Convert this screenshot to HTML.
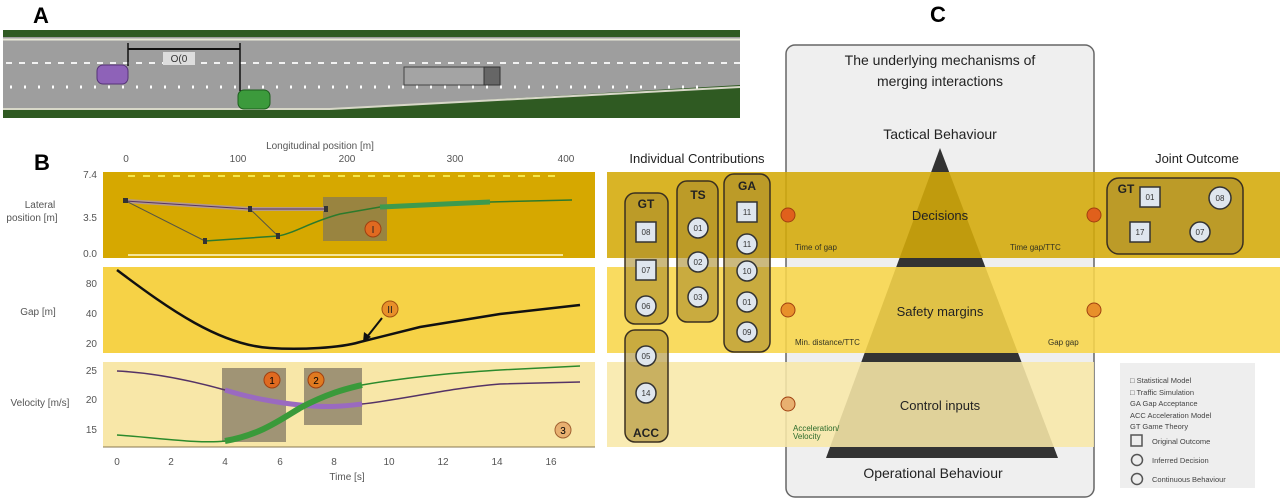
<!DOCTYPE html>
<html><head><meta charset="utf-8"><style>
html,body{margin:0;padding:0;background:#fff;}
svg{display:block;font-family:"Liberation Sans",sans-serif;}
</style></head><body>
<svg width="1280" height="502" viewBox="0 0 1280 502" xmlns="http://www.w3.org/2000/svg">
<!-- Panel A -->
<text x="33" y="23" font-size="22" font-weight="bold">A</text>
<rect x="3" y="30" width="737" height="88" fill="#2f5a22"/>
<rect x="3" y="37" width="737" height="72" fill="#9e9e9e"/>
<path d="M330 109 L740 85 L740 118 L330 118 Z" fill="#2f5a22"/>
<line x1="3" y1="39.5" x2="740" y2="39.5" stroke="#e8e8d8" stroke-width="2"/>
<line x1="3" y1="109" x2="330" y2="109" stroke="#d8d8c8" stroke-width="2"/>
<line x1="330" y1="109" x2="740" y2="87" stroke="#d8d8c8" stroke-width="2"/>
<line x1="6" y1="63" x2="740" y2="63" stroke="#f2f2f2" stroke-width="2" stroke-dasharray="6,7"/>
<line x1="10" y1="87" x2="700" y2="87" stroke="#fff" stroke-width="3" stroke-dasharray="2,12"/>
<rect x="97" y="65" width="31" height="19" rx="6" fill="#8e62b8" stroke="#553377"/>
<rect x="238" y="90" width="32" height="19" rx="6" fill="#3c9a3c" stroke="#1e5e1e"/>
<rect x="404" y="67" width="80" height="18" fill="#a4a4a4" stroke="#444"/>
<rect x="484" y="67" width="16" height="18" fill="#666" stroke="#333"/>
<line x1="128" y1="43" x2="128" y2="66" stroke="#111" stroke-width="1.5"/>
<line x1="240" y1="43" x2="240" y2="91" stroke="#111" stroke-width="1.5"/>
<line x1="128" y1="49" x2="240" y2="49" stroke="#111" stroke-width="2"/>
<rect x="163" y="52" width="32" height="13" fill="#ddd"/>
<text x="179" y="62" font-size="10" text-anchor="middle" fill="#333">O(0</text>

<!-- Panel B -->
<text x="34" y="170" font-size="22" font-weight="bold">B</text>
<text x="320" y="149" font-size="10" text-anchor="middle" fill="#555">Longitudinal position [m]</text>
<g font-size="10" fill="#555" text-anchor="middle">
<text x="126" y="162">0</text><text x="238" y="162">100</text><text x="347" y="162">200</text><text x="455" y="162">300</text><text x="566" y="162">400</text>
</g>
<rect x="103" y="172" width="492" height="86" fill="#d6a800"/>
<line x1="128" y1="176" x2="562" y2="176" stroke="#f6e64a" stroke-width="2" stroke-dasharray="7,8"/>
<line x1="128" y1="255" x2="563" y2="255" stroke="#f5e59a" stroke-width="2"/>
<rect x="103" y="267" width="492" height="86" fill="#f6d246"/>
<rect x="103" y="362" width="492" height="85" fill="#f8e7a8"/>
<line x1="103" y1="447" x2="595" y2="447" stroke="#8a7a50" stroke-width="1"/>
<g font-size="10" fill="#555" text-anchor="end">
<text x="97" y="178">7.4</text><text x="97" y="221">3.5</text><text x="97" y="257">0.0</text>
<text x="97" y="287">80</text><text x="97" y="317">40</text><text x="97" y="347">20</text>
<text x="97" y="374">25</text><text x="97" y="403">20</text><text x="97" y="433">15</text>
</g>
<text x="40" y="208" font-size="10" fill="#555" text-anchor="middle">Lateral</text>
<text x="32" y="221" font-size="10" fill="#555" text-anchor="middle">position [m]</text>
<text x="38" y="315" font-size="10" fill="#555" text-anchor="middle">Gap [m]</text>
<text x="40" y="406" font-size="10" fill="#555" text-anchor="middle">Velocity [m/s]</text>
<g font-size="10" fill="#555" text-anchor="middle">
<text x="117" y="465">0</text><text x="171" y="465">2</text><text x="225" y="465">4</text><text x="280" y="465">6</text><text x="334" y="465">8</text><text x="389" y="465">10</text><text x="443" y="465">12</text><text x="497" y="465">14</text><text x="551" y="465">16</text>
<text x="347" y="480">Time [s]</text>
</g>
<!-- plot1 -->
<rect x="323" y="197" width="64" height="44" fill="#8a7a50" opacity="0.8"/>
<path d="M126 201 L250 209 L325 209" stroke="#b59a8a" stroke-width="4" fill="none"/>
<path d="M126 201 L250 209 L325 209" stroke="#553366" stroke-width="1" fill="none"/>
<path d="M205 241 L278 236 C295 233 310 222 340 214 L380 207 L445 204 L490 202 L572 200" stroke="#2c7a2c" stroke-width="1.5" fill="none"/>
<path d="M380 207 L445 204 L490 202" stroke="#3e9a4e" stroke-width="5" fill="none"/>
<line x1="126" y1="201" x2="205" y2="241" stroke="#554" stroke-width="1"/>
<line x1="250" y1="209" x2="278" y2="236" stroke="#554" stroke-width="1"/>
<g fill="#333"><rect x="123" y="198" width="5" height="5"/><rect x="248" y="206" width="4" height="6"/><rect x="203" y="238" width="4" height="6"/><rect x="276" y="233" width="4" height="6"/><rect x="324" y="206" width="4" height="6"/></g>
<circle cx="373" cy="229" r="8" fill="#e06a20" stroke="#a04010"/>
<text x="373" y="233" font-size="10" text-anchor="middle" fill="#222">I</text>
<!-- plot2 -->
<path d="M117 270 C170 310 220 345 270 348 C300 350 340 348 360 342 L420 327 L500 314 L580 305" stroke="#111" stroke-width="2.5" fill="none"/>
<circle cx="390" cy="309" r="8" fill="#e8902a" stroke="#a05010"/>
<text x="390" y="313" font-size="10" text-anchor="middle" fill="#222">II</text>
<line x1="382" y1="318" x2="367" y2="337" stroke="#111" stroke-width="2"/>
<path d="M363 342 L364 332 L371 337 Z" fill="#111"/>
<!-- plot3 -->
<rect x="222" y="368" width="64" height="74" fill="#8a8068" opacity="0.8"/>
<rect x="304" y="368" width="58" height="57" fill="#8a8068" opacity="0.8"/>
<path d="M117 371 C160 373 200 383 225 390 C250 398 280 403 300 405 C330 408 345 406 362 404 C400 400 450 388 500 384 L580 382" stroke="#553366" stroke-width="1.5" fill="none"/>
<path d="M225 390 C250 398 280 403 300 405 C330 408 345 406 362 404" stroke="#9a6ac0" stroke-width="5" fill="none"/>
<path d="M117 435 C160 438 200 444 225 441 C260 435 280 420 300 408 C330 392 350 388 362 385 C420 375 470 372 500 370 L580 366" stroke="#2c8a2c" stroke-width="1.5" fill="none"/>
<path d="M225 441 C260 435 280 420 300 408 C330 392 350 388 362 385" stroke="#3a9a3a" stroke-width="6" fill="none"/>
<circle cx="272" cy="380" r="8" fill="#e06a20" stroke="#a04010"/><text x="272" y="384" font-size="10" text-anchor="middle">1</text>
<circle cx="316" cy="380" r="8" fill="#e07a20" stroke="#a04010"/><text x="316" y="384" font-size="10" text-anchor="middle">2</text>
<circle cx="563" cy="430" r="8" fill="#e8b070" stroke="#a06030"/><text x="563" y="434" font-size="10" text-anchor="middle">3</text>

<!-- Panel C -->
<text x="930" y="22" font-size="22" font-weight="bold">C</text>
<rect x="786" y="45" width="308" height="452" rx="9" fill="#efefef" stroke="#666" stroke-width="1.5"/>
<text x="940" y="65" font-size="14" text-anchor="middle" fill="#222">The underlying mechanisms of</text>
<text x="940" y="86" font-size="14" text-anchor="middle" fill="#222">merging interactions</text>
<text x="940" y="139" font-size="14" text-anchor="middle" fill="#222">Tactical Behaviour</text>
<path d="M940 148 L1058 458 L826 458 Z" fill="#333"/>
<text x="933" y="478" font-size="14" text-anchor="middle" fill="#222">Operational Behaviour</text>
<text x="697" y="163" font-size="13" text-anchor="middle" fill="#222">Individual Contributions</text>
<text x="1197" y="163" font-size="13" text-anchor="middle" fill="#222">Joint Outcome</text>
<!-- bands -->
<rect x="607" y="172" width="673" height="86" fill="#d4aa08" opacity="0.88"/>
<rect x="607" y="267" width="673" height="86" fill="#f8d64a" opacity="0.88"/>
<rect x="607" y="362" width="487" height="85" fill="#f8e8a8" opacity="0.88"/>
<text x="940" y="220" font-size="13" text-anchor="middle" fill="#222">Decisions</text>
<text x="940" y="316" font-size="13" text-anchor="middle" fill="#222">Safety margins</text>
<text x="940" y="410" font-size="13" text-anchor="middle" fill="#222">Control inputs</text>
<g font-size="8" fill="#332">
<text x="795" y="250">Time of gap</text><text x="1010" y="250">Time gap/TTC</text>
<text x="795" y="345">Min. distance/TTC</text><text x="1048" y="345">Gap gap</text>
</g>
<text x="793" y="431" font-size="8" fill="#2a6a2a">Acceleration/</text>
<text x="793" y="439" font-size="8" fill="#2a6a2a">Velocity</text>
<g stroke="#a04010">
<circle cx="788" cy="215" r="7" fill="#e0601c"/><circle cx="788" cy="310" r="7" fill="#e8902a"/><circle cx="788" cy="404" r="7" fill="#e8b070"/>
<circle cx="1094" cy="215" r="7" fill="#e0601c"/><circle cx="1094" cy="310" r="7" fill="#e8902a"/>
</g>
<!-- pills -->
<g fill="#a88a2a" fill-opacity="0.6" stroke="#3a3020" stroke-width="1.5">
<rect x="625" y="193" width="43" height="131" rx="10"/>
<rect x="677" y="181" width="41" height="141" rx="10"/>
<rect x="724" y="174" width="46" height="178" rx="10"/>
<rect x="625" y="330" width="43" height="112" rx="10"/>
<rect x="1107" y="178" width="136" height="76" rx="12"/>
</g>
<g font-size="12" font-weight="bold" fill="#222" text-anchor="middle">
<text x="646" y="208">GT</text><text x="698" y="199">TS</text><text x="747" y="190">GA</text><text x="646" y="437">ACC</text><text x="1126" y="193">GT</text>
</g>
<g fill="#dfe6ee" stroke="#333" stroke-width="1.5">
<rect x="636" y="222" width="20" height="20"/><rect x="636" y="260" width="20" height="20"/>
<rect x="737" y="202" width="20" height="20"/>
<rect x="1140" y="187" width="20" height="20"/><rect x="1130" y="222" width="20" height="20"/>
<circle cx="646" cy="306" r="10"/><circle cx="698" cy="228" r="10"/><circle cx="698" cy="262" r="10"/><circle cx="698" cy="297" r="10"/>
<circle cx="747" cy="244" r="10"/><circle cx="747" cy="271" r="10"/><circle cx="747" cy="302" r="10"/><circle cx="747" cy="332" r="10"/>
<circle cx="646" cy="356" r="10"/><circle cx="646" cy="393" r="10"/>
<circle cx="1220" cy="198" r="11"/><circle cx="1200" cy="232" r="10"/>
</g>
<g font-size="8" fill="#333" text-anchor="middle">
<text x="646" y="235">08</text><text x="646" y="273">07</text><text x="747" y="215">11</text>
<text x="646" y="309">06</text><text x="698" y="231">01</text><text x="698" y="265">02</text><text x="698" y="300">03</text>
<text x="747" y="247">11</text><text x="747" y="274">10</text><text x="747" y="305">01</text><text x="747" y="335">09</text>
<text x="646" y="359">05</text><text x="646" y="396">14</text>
<text x="1150" y="200">01</text><text x="1140" y="235">17</text><text x="1220" y="201">08</text><text x="1200" y="235">07</text>
</g>
<!-- legend -->
<rect x="1120" y="363" width="135" height="125" fill="#eeeeee"/>
<g font-size="7.5" fill="#444">
<text x="1130" y="383">□ Statistical Model</text>
<text x="1130" y="395">□ Traffic Simulation</text>
<text x="1130" y="406">GA Gap Acceptance</text>
<text x="1130" y="418">ACC Acceleration Model</text>
<text x="1130" y="429">GT Game Theory</text>
<text x="1152" y="444">Original Outcome</text>
<text x="1152" y="463">Inferred Decision</text>
<text x="1152" y="482">Continuous Behaviour</text>
</g>
<rect x="1131" y="435" width="11" height="11" fill="none" stroke="#555" stroke-width="1.5"/>
<circle cx="1137" cy="460" r="5.5" fill="none" stroke="#555" stroke-width="1.5"/>
<circle cx="1137" cy="479" r="5.5" fill="none" stroke="#555" stroke-width="1.5"/>
</svg>
</body></html>
